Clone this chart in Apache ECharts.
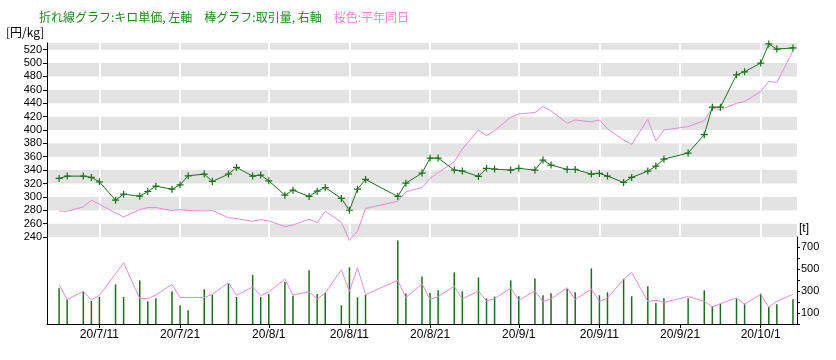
<!DOCTYPE html>
<html><head><meta charset="utf-8">
<script src="https://cdn.jsdelivr.net/npm/echarts@6/dist/echarts.min.js"></script>
<style>html,body{margin:0;padding:0;background:#fff}#c{width:836px;height:360px}</style>
</head><body><div id="c"></div>
<script>
// trading days (2020)
const dates = ['7/6','7/7','7/9','7/10','7/11','7/13','7/14','7/16','7/17','7/18','7/20','7/21','7/22','7/24','7/25','7/27','7/28','7/30','7/31','8/1','8/3','8/4','8/6','8/7','8/8','8/10','8/11','8/12','8/13','8/17','8/18','8/20','8/21','8/22','8/24','8/25','8/27','8/28','8/29','8/31','9/1','9/3','9/4','9/5','9/7','9/8','9/10','9/11','9/12','9/14','9/15','9/17','9/18','9/19','9/22','9/24','9/25','9/26','9/28','9/29','10/1','10/2','10/3','10/5'];
// kilo unit price (yen/kg), left axis
const price = [327.6,331,331,329,322.5,295,304,301,308,316,311.5,318,331.5,334,323,334,344,331,332.5,324,302.5,310,300.6,308.5,314,297.6,280,311.5,326,300.6,320.5,335.5,358,358,340,338.5,330.6,342.6,341.5,340,342.6,340,355,347.6,341,341,334,335,331,321.6,329,338.5,346,356.5,365.5,393,434,434,482.5,487,500,528.6,521,522.6];
// trading volume (t), right axis
const volume = [324,222,294,209,245,360,245,396,206,233,297,170,125,315,263,366,245,445,245,272,381,256,487,272,285,170,514,242,263,758,276,432,282,306,469,297,423,233,249,396,252,414,261,279,318,288,505,261,288,411,252,342,191,233,233,306,161,185,231,185,276,155,179,224];
// normal-year same-day price
const priceNormal = [278.6,278.6,285,295,289,276,270,281,284,284,279.6,281,279.6,279,279.6,269,267.5,263.5,266,264,255.6,258,266.5,261.6,278.5,262,235,248.5,282.6,293.5,307.5,314,327.6,336,352.5,371.5,400,391.5,399,419,424,426,435,428.5,410,415,412,415,402,385,378.6,416,383.5,400,405,414,432.6,430,440,442.5,457.5,472.5,471,518];
// normal-year same-day volume
const volumeNormal = [360,222,297,218,261,457,556,231,231,263,360,240,240,240,270,375,261,336,258,291,408,264,291,227,282,493,297,511,267,396,240,366,224,249,342,227,300,209,231,327,215,300,204,227,330,222,318,204,236,405,469,204,215,197,249,206,155,185,236,179,270,152,206,270];
// x tick labels (dates)
const xTickLabels = ['7/11','7/21','8/1','8/11','8/21','9/1','9/11','9/21','10/1'];
// left axis ticks
const priceAxis = {min: 240, max: 530, interval: 20};
// right axis ticks
const volumeAxis = {min: 0, max: 790, interval: 100, labels: [100, 300, 500, 700]};

const days = [];
for (let d = new Date(2020, 6, 5); d <= new Date(2020, 9, 5); d.setDate(d.getDate() + 1)) {
  days.push((d.getMonth() + 1) + '/' + d.getDate());
}
const pair = (vals) => dates.map((d, i) => [d, vals[i]]);
const isTick = (idx, val) => xTickLabels.indexOf(val) >= 0;

const GREEN = '#197319', PINK = '#e78ad9', BAR = '#1f6b1f';
const font = 'Liberation Sans, Arial, sans-serif';

const chart = echarts.init(document.getElementById('c'));
chart.setOption({
  animation: false,
  backgroundColor: '#fff',
  title: {
    left: 34, top: 6,
    text: '{g|折れ線グラフ:キロ単価, 左軸　棒グラフ:取引量, 右軸　}{p|桜色:平年同日}',
    textStyle: {
      fontSize: 12, fontWeight: 'normal', fontFamily: 'Noto Sans CJK JP',
      rich: {
        g: {color: '#1f8a1f', fontSize: 12, fontFamily: 'Noto Sans CJK JP'},
        p: {color: '#ee88dd', fontSize: 12, fontFamily: 'Noto Sans CJK JP'}
      }
    }
  },
  graphic: [
    {type: 'text', left: 6, top: 26, style: {text: '[円/kg]', fontSize: 12, fill: '#000', fontFamily: 'Noto Sans CJK JP'}},
    {type: 'text', left: 799, top: 223, style: {text: '[t]', fontSize: 12, fill: '#000', fontFamily: font}}
  ],
  grid: [
    {left: 47, right: 39, top: 43, height: 194},
    {left: 47, right: 39, top: 237, bottom: 36}
  ],
  xAxis: [
    {type: 'category', gridIndex: 0, data: days, boundaryGap: true, show: false},
    {type: 'category', gridIndex: 1, data: days, boundaryGap: true,
      axisLine: {show: true, lineStyle: {color: '#000', width: 1}},
      axisTick: {show: true, alignWithLabel: true, interval: isTick, length: 4, lineStyle: {color: '#000'}},
      axisLabel: {interval: isTick, formatter: v => '20/' + v, fontSize: 12, color: '#000', margin: 5, fontFamily: font},
      splitLine: {show: false}}
  ],
  yAxis: [
    {type: 'value', gridIndex: 0, min: priceAxis.min, max: priceAxis.max, interval: priceAxis.interval,
      axisLine: {show: true, lineStyle: {color: '#000'}},
      axisTick: {show: true, length: 4, lineStyle: {color: '#000'}},
      axisLabel: {fontSize: 11, color: '#000', margin: 5, showMaxLabel: false, fontFamily: font,
        formatter: v => (v <= 520 ? String(v) : '')},
      splitLine: {show: false},
      splitArea: {show: true, areaStyle: {color: ['#e3e3e3', '#ffffff']}}},
    {type: 'value', gridIndex: 1, min: volumeAxis.min, max: volumeAxis.max,
      axisLine: {show: true, lineStyle: {color: '#000'}},
      axisTick: {show: false}, axisLabel: {show: false}, splitLine: {show: false}},
    {type: 'value', gridIndex: 1, position: 'right', min: volumeAxis.min, max: volumeAxis.max, interval: volumeAxis.interval,
      axisLine: {show: true, lineStyle: {color: '#000'}},
      axisTick: {show: true, length: 3, lineStyle: {color: '#000'}},
      axisLabel: {fontSize: 11, color: '#000', margin: 4, showMaxLabel: false, fontFamily: font,
        formatter: v => (volumeAxis.labels.indexOf(v) >= 0 ? String(v) : '')},
      splitLine: {show: false}}
  ],
  series: [
    {type: 'line', xAxisIndex: 0, yAxisIndex: 0, data: [], z: 1, silent: true,
      markLine: {silent: true, symbol: 'none', animation: false, z: 1,
        label: {show: false},
        lineStyle: {color: '#ffffff', width: 2, type: 'solid'},
        data: xTickLabels.map(v => ({xAxis: v}))}},
    {name: '平年同日', type: 'line', xAxisIndex: 0, yAxisIndex: 0, data: pair(priceNormal),
      symbol: 'none', clip: false, z: 3, lineStyle: {color: PINK, width: 1}, itemStyle: {color: PINK}},
    {name: 'キロ単価', type: 'line', xAxisIndex: 0, yAxisIndex: 0, data: pair(price), z: 4,
      symbol: 'path://M3.3,0H4.7V3.3H8V4.7H4.7V8H3.3V4.7H0V3.3H3.3Z', symbolSize: 7, showAllSymbol: true,
      lineStyle: {color: GREEN, width: 1}, itemStyle: {color: GREEN}},
    {name: '取引量', type: 'bar', xAxisIndex: 1, yAxisIndex: 2, data: pair(volume), barWidth: 1.5, z: 2,
      itemStyle: {color: BAR}},
    {name: '平年取引量', type: 'line', xAxisIndex: 1, yAxisIndex: 2, data: pair(volumeNormal),
      symbol: 'none', z: 3, lineStyle: {color: PINK, width: 1}, itemStyle: {color: PINK}}
  ]
});
</script></body></html>
